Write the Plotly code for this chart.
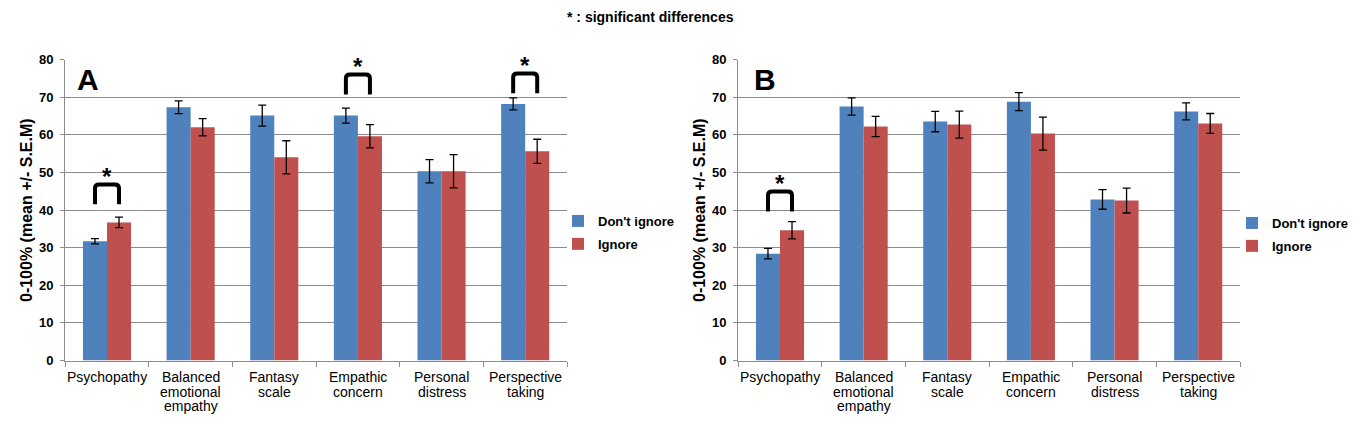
import plotly.graph_objects as go

categories = ["Psychopathy", "Balanced<br>emotional<br>empathy", "Fantasy<br>scale",
              "Empathic<br>concern", "Personal<br>distress", "Perspective<br>taking"]
series_names = ["Don't ignore", "Ignore"]

# Panel A
a_dont = [31.7, 67.3, 65.1, 65.1, 50.3, 68.2]
a_dont_err = [0.7, 1.7, 2.8, 2.0, 3.1, 1.6]
a_ign = [36.7, 62.0, 54.0, 59.6, 50.3, 55.6]
a_ign_err = [1.4, 2.3, 4.4, 3.1, 4.4, 3.2]
a_sig_idx = [0, 3, 5]
a_sig_base = [41.5, 70.7, 71.0]

# Panel B
b_dont = [28.4, 67.5, 63.5, 68.8, 42.8, 66.2]
b_dont_err = [1.4, 2.3, 2.7, 2.4, 2.6, 2.25]
b_ign = [34.6, 62.2, 62.7, 60.3, 42.5, 63.0]
b_ign_err = [2.3, 2.7, 3.6, 4.4, 3.3, 2.65]
b_sig_idx = [0]
b_sig_base = [39.6]

BLUE = "#4F81BD"
RED = "#C0504D"
GRID = "#8C8C8C"
W, H = 1363, 424
BARGAP = 0.425

fig = go.Figure()

def add_panel(xa, ya, legend, dont, dont_err, ign, ign_err):
    for k, (name, vals, errs, col) in enumerate([(series_names[0], dont, dont_err, BLUE),
                                                  (series_names[1], ign, ign_err, RED)]):
        fig.add_trace(go.Bar(
            x=categories, y=vals, name=name, marker_color=col, marker_line_width=0,
            error_y=dict(type="data", array=errs, color="black", thickness=1.3, width=4),
            xaxis=xa, yaxis=ya, legend=legend, legendgroup=f"{legend}_{k}"))

add_panel("x", "y", "legend", a_dont, a_dont_err, a_ign, a_ign_err)
add_panel("x2", "y2", "legend2", b_dont, b_dont_err, b_ign, b_ign_err)

ydom = [(H - 360.5) / H, (H - 59.5) / H]
xdomA = [65 / W, 567 / W]
xdomB = [738 / W, 1240 / W]

tickfont_y = dict(family="Liberation Sans", size=13, color="black", weight="bold")

def xaxis(dom, anchor):
    return dict(domain=dom, anchor=anchor, type="category", showgrid=False,
                showline=True, linecolor=GRID, linewidth=1, automargin=False, tickangle=0,
                ticks="outside", tickson="boundaries", ticklen=5, tickcolor=GRID,
                showticklabels=False, fixedrange=True)

def yaxis(anchor):
    return dict(domain=ydom, anchor=anchor, range=[0, 80], dtick=10, showgrid=True,
                gridcolor=GRID, gridwidth=1, showline=True, linecolor=GRID, linewidth=1,
                ticks="outside", ticklen=4, tickcolor=GRID, tickfont=tickfont_y,
                zeroline=False, ticklabelstandoff=4, automargin=False, fixedrange=True)

legfont = dict(family="Liberation Sans", size=13, color="black", weight="bold")

fig.update_layout(
    width=W, height=H, margin=dict(l=0, r=0, t=0, b=0, autoexpand=False),
    paper_bgcolor="white", plot_bgcolor="white",
    barmode="group", bargap=BARGAP, bargroupgap=0,
    xaxis=xaxis(xdomA, "y"), yaxis=yaxis("x"),
    xaxis2=xaxis(xdomB, "y2"), yaxis2=yaxis("x2"),
    legend=dict(x=558 / W, y=(H - 206) / H, xanchor="left", yanchor="top",
                font=legfont, bgcolor="rgba(0,0,0,0)", itemwidth=30,
                traceorder="grouped", tracegroupgap=3),
    legend2=dict(x=1232 / W, y=(H - 208) / H, xanchor="left", yanchor="top",
                 font=legfont, bgcolor="rgba(0,0,0,0)", itemwidth=30,
                 traceorder="grouped", tracegroupgap=3),
    showlegend=True,
)

# Category labels (drawn line by line for tight Excel-like line spacing)
for xref in ["x", "x2"]:
    for i, cat in enumerate(categories):
        for j, line in enumerate(cat.split("<br>")):
            fig.add_annotation(x=i, y=(H - (377 + 14.5 * j)) / H, xref=xref, yref="paper",
                               text=line, showarrow=False, xanchor="center", yanchor="middle",
                               font=dict(family="Liberation Sans", size=14, color="black"))

half = (1 - BARGAP) / 4  # offset from category center to each bar center

def add_brackets(xref, yref, idxs, bases):
    for i, base in zip(idxs, bases):
        x0, x1 = i - half, i + half
        top = base + 5.3
        r = 1.0
        dx = 0.05
        path = (f"M {x0},{base} L {x0},{top - r} Q {x0},{top} {x0 + dx},{top} "
                f"L {x1 - dx},{top} Q {x1},{top} {x1},{top - r} L {x1},{base}")
        fig.add_shape(type="path", path=path, xref=xref, yref=yref,
                      line=dict(color="black", width=4))
        fig.add_annotation(x=i, y=top - 2.0, xref=xref, yref=yref, text="*",
                           showarrow=False, yanchor="bottom", xanchor="center",
                           font=dict(family="Liberation Sans", size=24, color="black", weight="bold"))

add_brackets("x", "y", a_sig_idx, a_sig_base)
add_brackets("x2", "y2", b_sig_idx, b_sig_base)

# Title and panel labels
fig.add_annotation(x=650 / W, y=(H - 17) / H, xref="paper", yref="paper",
                   xanchor="center", yanchor="middle",
                   text="* : significant differences", showarrow=False,
                   font=dict(family="Liberation Sans", size=14, color="black", weight="bold"))
for lbl, px in [("A", 88), ("B", 765)]:
    fig.add_annotation(x=px / W, y=(H - 79) / H, xref="paper", yref="paper", text=lbl,
                       xanchor="center", yanchor="middle", showarrow=False,
                       font=dict(family="Liberation Sans", size=30, color="black", weight="bold"))
for px in [27, 700]:
    fig.add_annotation(x=px / W, y=(H - 210) / H, xref="paper", yref="paper",
                       xanchor="center", yanchor="middle",
                       text="0-100% (mean +/- S.E.M)", textangle=-90, showarrow=False,
                       font=dict(family="Liberation Sans", size=16, color="black", weight="bold"))

fig.write_html("out.html", post_script="document.body.style.margin='0';",
               config={"displayModeBar": False})
